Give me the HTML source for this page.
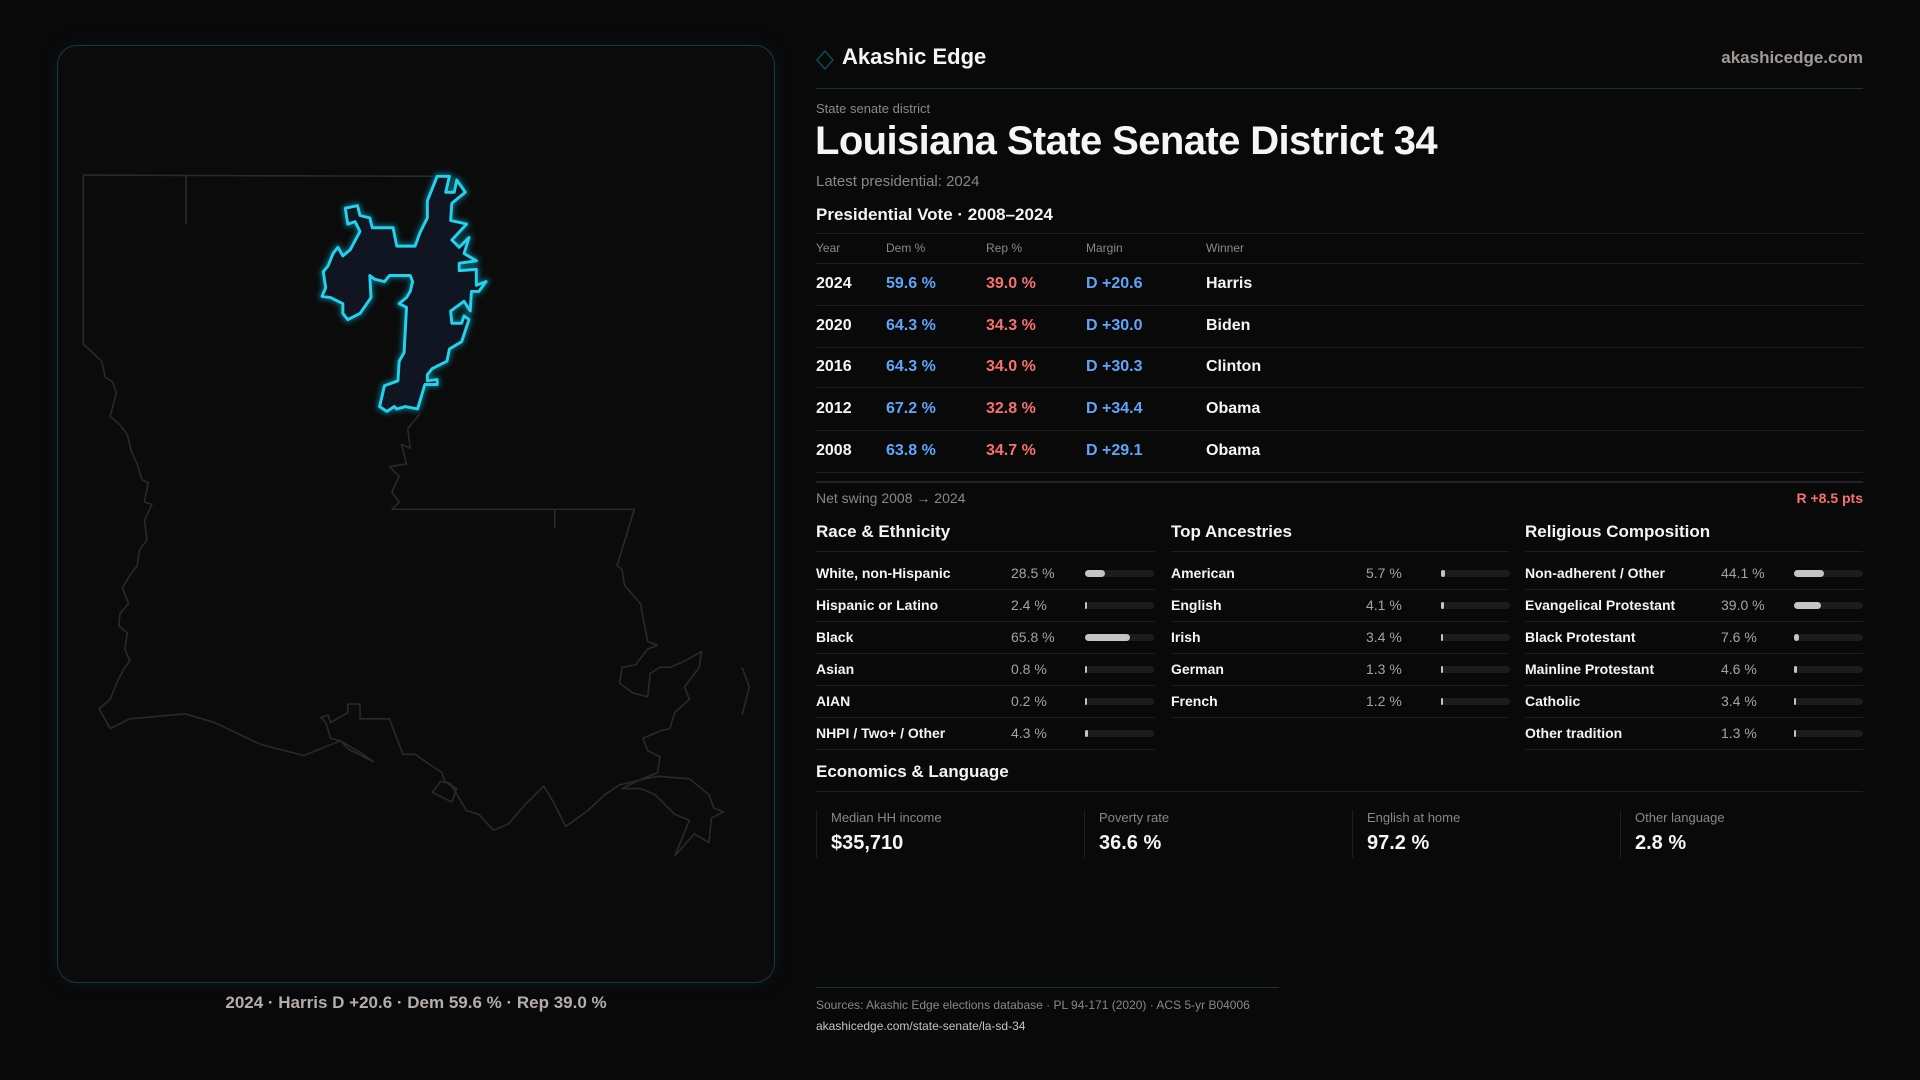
<!DOCTYPE html>
<html><head><meta charset="utf-8"><style>
*{margin:0;padding:0;box-sizing:border-box}
body{width:1920px;height:1080px;background:#09090a;font-family:"Liberation Sans",sans-serif;color:#f5f5f4;position:relative;overflow:hidden}
.a{position:absolute;white-space:nowrap}
.card{position:absolute;left:57px;top:45px;width:718px;height:938px;border:1px solid #123b45;border-radius:20px;background:#0b0b0c;box-shadow:0 0 18px rgba(20,120,140,0.12)}
.g{color:#8d8782}
.hl{position:absolute;height:1px;background:#1f1f21}
.b{font-weight:bold}
.dem{color:#60a5fa}.rep{color:#f87171}
.r{font-size:16px;top:0}
.trk{position:absolute;height:7px;background:#1c1c1e;border-radius:4px;width:69px}
.fil{position:absolute;left:0;top:0;height:7px;background:#c4c4c4;border-radius:4px}
</style></head><body>
<div class="card"></div>
<svg class="a" style="left:0;top:0" width="1920" height="1080" viewBox="0 0 1568 882">
<defs><filter id="gl" x="-20%" y="-20%" width="140%" height="140%"><feGaussianBlur stdDeviation="2"/></filter></defs>
<g fill="none" stroke="#2a2a2c" stroke-width="1.3" stroke-linejoin="round">
<polyline points="68,143 357,144"/>
<line x1="152" y1="143" x2="152" y2="183"/>
<polyline points="68,143 68,281 83,295 86,308 92,312 95,321 90,340 98,347 104,355 107,368 112,379 116,392 121,394 118,410 124,412 118,425 120,441 114,449 112,462 106,470 100,480 105,493 98,501 97,511 104,517 102,530 106,540 102,545 96,556 90,571 81,579 90,595 106,587 151,583 175,590 213,608 248,617 278,605 270,603 266,590 262,586 268,584 270,590 284,582 284,575 294,575 294,587 318,587 329,616 339,616 349,623 361,631 363,638 369,642 373,644 369,655 353,647 360,638 368,640 381,662 391,665 403,678 415,673 429,657 444,642 452,655 462,675 480,662 494,649 506,641 527,636 537,634 563,636 579,649 583,660 591,663 581,668 579,688 567,681 551,699 563,670 551,665 535,649 523,644 508,644 520,638 537,631 539,618 529,613 525,603 539,597 547,595 551,582 563,571 559,561 571,545 573,532 559,540 547,545 539,545 531,550 529,569 517,566 506,558 508,545 519,543 529,530 537,527 529,524 523,493 510,478 508,465 504,462 518,416 452,416 320,416 326,410 320,402 326,389 318,381 332,379 328,363 335,366 333,350 343,338"/>
<line x1="453" y1="416" x2="453" y2="431"/>
<polyline points="606,545 612,561 606,584"/>
<polyline points="278,605 295,615 305,622 285,612 278,605"/>
</g>
<g>
<polygon points="357,144 367,144 364,157 371,157 373,147 380,157 369,166 368,180 381,183 369,196 375,202 383,194 379,207 389,213 375,215 375,221 389,220 389,233 397,230 391,238 385,238 384,254 379,246 368,254 369,264 377,264 379,258 383,261 377,279 367,285 365,295 353,301 349,306 349,311 357,310 357,314 347,314 341,334 331,332 324,334 322,332 316,336 310,332 314,315 325,311 326,295 330,288 332,251 326,248 332,243 335,238 337,230 335,225 318,225 314,230 306,228 302,225 303,243 294,256 284,261 280,256 280,248 270,243 263,242 266,235 264,222 268,217 272,207 276,202 280,209 286,204 294,189 290,181 284,183 282,170 292,168 294,176 302,178 304,186 321,186 324,201 339,201 343,190 349,178 349,164" fill="#111522" stroke="#0b4f5c" stroke-width="6" stroke-linejoin="round" filter="url(#gl)"/>
<polygon points="357,144 367,144 364,157 371,157 373,147 380,157 369,166 368,180 381,183 369,196 375,202 383,194 379,207 389,213 375,215 375,221 389,220 389,233 397,230 391,238 385,238 384,254 379,246 368,254 369,264 377,264 379,258 383,261 377,279 367,285 365,295 353,301 349,306 349,311 357,310 357,314 347,314 341,334 331,332 324,334 322,332 316,336 310,332 314,315 325,311 326,295 330,288 332,251 326,248 332,243 335,238 337,230 335,225 318,225 314,230 306,228 302,225 303,243 294,256 284,261 280,256 280,248 270,243 263,242 266,235 264,222 268,217 272,207 276,202 280,209 286,204 294,189 290,181 284,183 282,170 292,168 294,176 302,178 304,186 321,186 324,201 339,201 343,190 349,178 349,164" fill="#111522" stroke="#22d3ee" stroke-width="2.4" stroke-linejoin="round"/>
</g>
</svg>
<div class="a b" style="left:0;width:832px;text-align:center;top:993px;font-size:17px;color:#b5aea8">2024 · Harris D +20.6 · Dem 59.6 % · Rep 39.0 %</div>

<svg class="a" style="left:816px;top:50px" width="18" height="20"><polygon points="9,1 17,10 9,19 1,10" fill="none" stroke="#0f4a55" stroke-width="1.5"/></svg>
<div class="a b" style="left:842px;top:44px;font-size:22px">Akashic Edge</div>
<div class="a b g" style="right:57px;top:48px;font-size:17px;color:#a09a95">akashicedge.com</div>
<div class="hl" style="left:816px;width:1047px;top:88px;background:#0f3640"></div>
<div class="a g" style="left:816px;top:101px;font-size:13px">State senate district</div>
<div class="a b" style="left:815px;top:119px;font-size:40px;letter-spacing:-0.6px">Louisiana State Senate District 34</div>
<div class="a g" style="left:816px;top:173px;font-size:15px">Latest presidential: 2024</div>
<div class="a b" style="left:816px;top:205px;font-size:17px">Presidential Vote · 2008–2024</div>
<div class="hl" style="left:816px;width:1047px;top:233px"></div>
<div class="a g" style="left:816px;top:241px;font-size:12px">Year</div>
<div class="a g" style="left:886px;top:241px;font-size:12px">Dem %</div>
<div class="a g" style="left:986px;top:241px;font-size:12px">Rep %</div>
<div class="a g" style="left:1086px;top:241px;font-size:12px">Margin</div>
<div class="a g" style="left:1206px;top:241px;font-size:12px">Winner</div>
<div class="hl" style="left:816px;width:1047px;top:263px"></div>

<div class="a b" style="left:816px;top:275px;font-size:16px">2024</div><div class="a b dem" style="left:886px;top:275px;font-size:16px">59.6 %</div><div class="a b rep" style="left:986px;top:275px;font-size:16px">39.0 %</div><div class="a b dem" style="left:1086px;top:275px;font-size:16px">D +20.6</div><div class="a b" style="left:1206px;top:275px;font-size:16px">Harris</div>
<div class="hl" style="left:816px;width:1047px;top:305px"></div>
<div class="a b" style="left:816px;top:317px;font-size:16px">2020</div><div class="a b dem" style="left:886px;top:317px;font-size:16px">64.3 %</div><div class="a b rep" style="left:986px;top:317px;font-size:16px">34.3 %</div><div class="a b dem" style="left:1086px;top:317px;font-size:16px">D +30.0</div><div class="a b" style="left:1206px;top:317px;font-size:16px">Biden</div>
<div class="hl" style="left:816px;width:1047px;top:347px"></div>
<div class="a b" style="left:816px;top:358px;font-size:16px">2016</div><div class="a b dem" style="left:886px;top:358px;font-size:16px">64.3 %</div><div class="a b rep" style="left:986px;top:358px;font-size:16px">34.0 %</div><div class="a b dem" style="left:1086px;top:358px;font-size:16px">D +30.3</div><div class="a b" style="left:1206px;top:358px;font-size:16px">Clinton</div>
<div class="hl" style="left:816px;width:1047px;top:387px"></div>
<div class="a b" style="left:816px;top:400px;font-size:16px">2012</div><div class="a b dem" style="left:886px;top:400px;font-size:16px">67.2 %</div><div class="a b rep" style="left:986px;top:400px;font-size:16px">32.8 %</div><div class="a b dem" style="left:1086px;top:400px;font-size:16px">D +34.4</div><div class="a b" style="left:1206px;top:400px;font-size:16px">Obama</div>
<div class="hl" style="left:816px;width:1047px;top:430px"></div>
<div class="a b" style="left:816px;top:442px;font-size:16px">2008</div><div class="a b dem" style="left:886px;top:442px;font-size:16px">63.8 %</div><div class="a b rep" style="left:986px;top:442px;font-size:16px">34.7 %</div><div class="a b dem" style="left:1086px;top:442px;font-size:16px">D +29.1</div><div class="a b" style="left:1206px;top:442px;font-size:16px">Obama</div>
<div class="hl" style="left:816px;width:1047px;top:472px"></div>
<div class="hl" style="left:816px;width:1047px;top:481px;height:2px;background:#232325"></div>
<div class="a g" style="left:816px;top:490px;font-size:14px">Net swing 2008 → 2024</div>
<div class="a b rep" style="right:57px;top:490px;font-size:14px">R +8.5 pts</div>

<div class="a b" style="left:816px;top:522px;font-size:17px">Race &amp; Ethnicity</div>
<div class="a b" style="left:1171px;top:522px;font-size:17px">Top Ancestries</div>
<div class="a b" style="left:1525px;top:522px;font-size:17px">Religious Composition</div>
<div class="hl" style="left:816px;width:339px;top:551px"></div>
<div class="hl" style="left:1171px;width:338px;top:551px"></div>
<div class="hl" style="left:1525px;width:338px;top:551px"></div>

<div id="rows"></div>
<script>
var cols=[[816,1011,1085,1155,[["White, non-Hispanic",28.5],["Hispanic or Latino",2.4],["Black",65.8],["Asian",0.8],["AIAN",0.2],["NHPI / Two+ / Other",4.3]]],
[1171,1366,1441,1509,[["American",5.7],["English",4.1],["Irish",3.4],["German",1.3],["French",1.2]]],
[1525,1721,1794,1863,[["Non-adherent / Other",44.1],["Evangelical Protestant",39.0],["Black Protestant",7.6],["Mainline Protestant",4.6],["Catholic",3.4],["Other tradition",1.3]]]];
var h="";
cols.forEach(function(c){c[4].forEach(function(r,i){var y=573+i*32;
h+='<div class="a b" style="left:'+c[0]+'px;top:'+(y-8)+'px;font-size:14px">'+r[0]+'</div>';
h+='<div class="a" style="left:'+c[1]+'px;top:'+(y-8)+'px;font-size:14px;color:#a8a29e">'+r[1].toFixed(1)+' %</div>';
var w=Math.max(2,r[1]/100*69);
h+='<div class="trk" style="left:'+c[2]+'px;top:'+(y-3)+'px"><div class="fil" style="width:'+w+'px"></div></div>';
h+='<div class="hl" style="left:'+c[0]+'px;width:'+(c[3]-c[0])+'px;top:'+(y+16)+'px"></div>';});});
document.getElementById("rows").innerHTML=h;
</script>

<div class="a b" style="left:816px;top:762px;font-size:17px">Economics &amp; Language</div>
<div class="hl" style="left:816px;width:1047px;top:791px"></div>
<div class="a" style="left:816px;top:810px;width:1px;height:48px;background:#1f1f21"></div>
<div class="a" style="left:1084px;top:810px;width:1px;height:48px;background:#1f1f21"></div>
<div class="a" style="left:1352px;top:810px;width:1px;height:48px;background:#1f1f21"></div>
<div class="a" style="left:1620px;top:810px;width:1px;height:48px;background:#1f1f21"></div>
<div class="a g" style="left:831px;top:810px;font-size:13px">Median HH income</div><div class="a b" style="left:831px;top:832px;font-size:20px">$35,710</div>
<div class="a g" style="left:1099px;top:810px;font-size:13px">Poverty rate</div><div class="a b" style="left:1099px;top:832px;font-size:20px">36.6 %</div>
<div class="a g" style="left:1367px;top:810px;font-size:13px">English at home</div><div class="a b" style="left:1367px;top:832px;font-size:20px">97.2 %</div>
<div class="a g" style="left:1635px;top:810px;font-size:13px">Other language</div><div class="a b" style="left:1635px;top:832px;font-size:20px">2.8 %</div>

<div class="hl" style="left:816px;width:463px;top:987px;background:#0f3640"></div>
<div class="a g" style="left:816px;top:998px;font-size:12px">Sources: Akashic Edge elections database · PL 94-171 (2020) · ACS 5-yr B04006</div>
<div class="a" style="left:816px;top:1019px;font-size:12px;color:#c8c2bd">akashicedge.com/state-senate/la-sd-34</div>
</body></html>
